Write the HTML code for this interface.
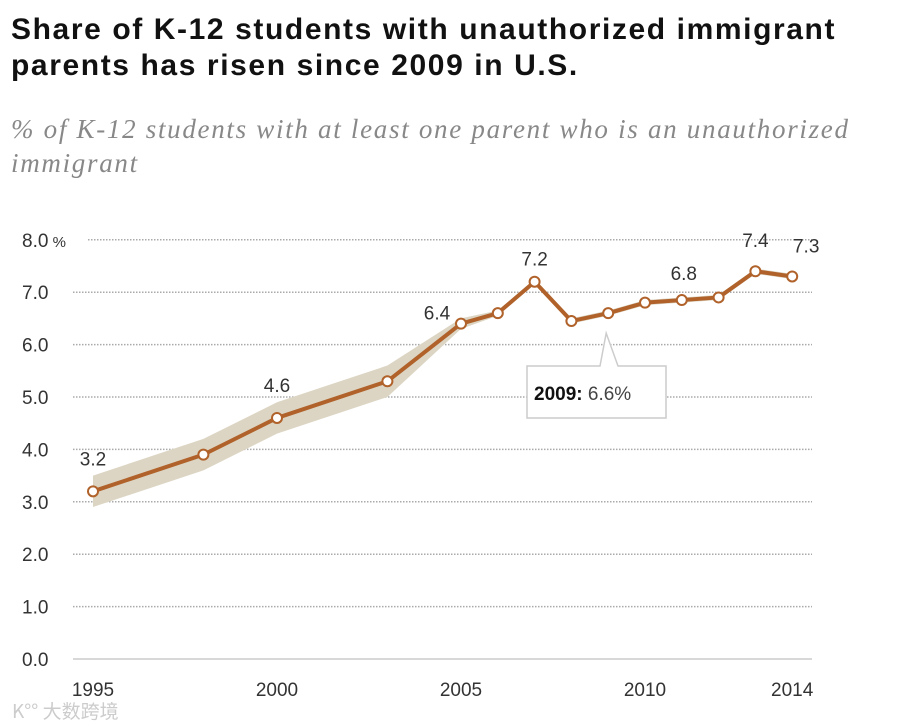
<!DOCTYPE html>
<html><head><meta charset="utf-8"><style>
body{margin:0;background:#fff;width:918px;height:728px;overflow:hidden;position:relative;font-family:"Liberation Sans","Noto Sans CJK SC",sans-serif}
#title{position:absolute;left:11px;top:12px;font-size:30px;font-weight:bold;line-height:36px;color:#111;letter-spacing:1.6px;white-space:nowrap}
#sub{position:absolute;left:11px;top:112px;font-family:"Liberation Serif",serif;font-style:italic;font-size:27px;line-height:34px;color:#888;letter-spacing:1.7px;white-space:nowrap}
svg{position:absolute;left:0;top:0}
</style></head><body>
<div id="title">Share of K-12 students with unauthorized immigrant<br>parents has risen since 2009 in U.S.</div>
<div id="sub">% of K-12 students with at least one parent who is an unauthorized<br>immigrant</div>
<svg id="chart" width="918" height="728"></svg>
<script>
const years=[1995,1998,2000,2003,2005,2006,2007,2008,2009,2010,2011,2012,2013,2014];
const values=[3.2,3.9,4.6,5.3,6.4,6.6,7.2,6.45,6.6,6.8,6.85,6.9,7.4,7.3];
const bandHalf=[0.3,0.3,0.3,0.3,0.1,0.05,0.05,0.05,0.05,0.05,0.05,0.05,0.05,0.05];
const yTicks=[0,1,2,3,4,5,6,7,8];
const xTicks=[1995,2000,2005,2010,2014];
const labels=[[1995,"3.2"],[2000,"4.6"],[2005,"6.4"],[2007,"7.2"],[2011,"6.8"],[2013,"7.4"],[2014,"7.3"]];
const labelOff=[[0,-26],[0,-26],[-24,-4],[0,-16],[2,-20],[0,-24],[14,-24]];
const NS="http://www.w3.org/2000/svg",svg=document.getElementById('chart');
const xs=y=>93+(y-1995)*36.8, ys=v=>659-v*52.4;
function mk(t,a,p){const e=document.createElementNS(NS,t);for(const k in a)e.setAttribute(k,a[k]);(p||svg).appendChild(e);return e;}
yTicks.forEach(v=>{
 const g=mk('line',{x1:v==8?88:73,x2:812,y1:ys(v),y2:ys(v),stroke:v==0?'#ccc':'#aaa','stroke-width':1.5,'stroke-dasharray':v==0?'':'1.5,1.5'});
 
 
 const t=mk('text',{x:22,y:ys(v)+7,'font-size':19,fill:'#333'});t.innerHTML=v.toFixed(1)+(v==8?'<tspan font-size="15"> %</tspan>':'');
 
 
});
xTicks.forEach(y=>{const t=mk('text',{x:xs(y),y:696,'font-size':19,fill:'#333','text-anchor':'middle'});t.textContent=y;
 
 });
let up=years.map((y,i)=>xs(y)+','+ys(values[i]+bandHalf[i])).join(' ');
let dn=years.map((y,i)=>xs(y)+','+ys(values[i]-bandHalf[i])).reverse().join(' ');
const band=mk('polygon',{points:up+' '+dn,fill:'#dcd5c3'});


const line=mk('polyline',{points:years.map((y,i)=>xs(y)+','+ys(values[i])).join(' '),fill:'none',stroke:'#b0622a','stroke-width':4,'stroke-linejoin':'round'});


years.forEach((y,i)=>{const c=mk('circle',{cx:xs(y),cy:ys(values[i]),r:5,fill:'#fff',stroke:'#b0622a','stroke-width':2});
 
 });
labels.forEach(([y,s],k)=>{const i=years.indexOf(y);const t=mk('text',{x:xs(y)+labelOff[k][0],y:ys(values[i])+labelOff[k][1],'font-size':19,fill:'#333','text-anchor':'middle'});t.textContent=s;
 
 });
const ti=years.indexOf(2009),tx=xs(2009),ty=ys(values[ti]);
const tip=mk('path',{d:`M527 366 H600 L${tx-2} ${ty+20} L618 366 H666 V418 H527 Z`,fill:'#fff',stroke:'#ccc','stroke-width':1.5});


const tt=mk('text',{x:534,y:400,'font-size':19,fill:'#444'});tt.innerHTML='<tspan font-weight="bold" fill="#111">2009:</tspan> 6.6%';


const wm=mk('text',{x:12,y:718,'font-size':19,fill:'#ccc','font-family':'Noto Sans CJK SC, sans-serif'});wm.textContent='K°° 大数跨境';


</script>
</body></html>
